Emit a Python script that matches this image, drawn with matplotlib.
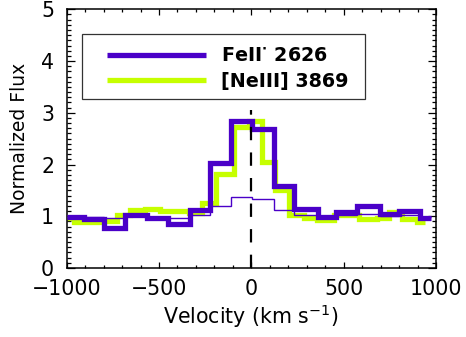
import matplotlib
matplotlib.use('Agg')
import matplotlib.pyplot as plt
from matplotlib.patches import Rectangle
from matplotlib.lines import Line2D
from matplotlib.ticker import MultipleLocator

# FeII* 2626 profile (bin edges in km/s, normalized flux per bin)
fe_edges = [-1000, -905, -800, -683, -565, -454, -331, -222, -110, 4, 121, 233,
            359, 461, 573, 699, 798, 916, 972]
fe_flux = [0.98, 0.95, 0.77, 1.03, 0.96, 0.85, 1.12, 2.03, 2.85, 2.68, 1.59, 1.14,
           0.99, 1.08, 1.19, 1.04, 1.10, 0.96]
# weaker FeII* component on the same bins (thin line)
fe_thin_flux = [0.99, 0.99, 0.96, 1.00, 0.99, 0.97, 1.02, 1.19, 1.37, 1.33, 1.12, 1.03,
                1.00, 1.02, 1.04, 1.01, 1.03, 0.99]

# [NeIII] 3869 profile
ne_edges = [-1000, -962, -884, -806, -728, -656, -575, -493, -415, -340, -267, -190,
            -96, -15, 58, 130, 202, 284, 356, 446, 515, 582, 681, 744, 817, 898, 943]
ne_flux = [0.97, 0.88, 0.88, 0.90, 1.03, 1.12, 1.15, 1.10, 1.10, 1.07, 1.25, 1.82,
           2.72, 2.85, 2.04, 1.51, 1.03, 0.97, 0.93, 1.03, 1.03, 0.94, 0.96, 1.08,
           0.94, 0.88]

labels = ['FeII$^{\\bullet}$ 2626', '[NeIII] 3869']
v_sys = 0
v_line_top = 3.05

purple = '#4a00c8'
lime = '#c6ff00'

plt.rcParams['font.family'] = 'DejaVu Sans'
plt.rcParams['mathtext.default'] = 'regular'

fig = plt.figure(figsize=(4.66, 3.37), dpi=100)
ax = fig.add_axes([0.1431, 0.2047, 0.7925, 0.7677])

ax.stairs(ne_flux, ne_edges, baseline=None, color=lime, lw=3.8, zorder=2)
ax.stairs(fe_thin_flux, fe_edges, baseline=None, color=purple, lw=1.0, zorder=3)
ax.stairs(fe_flux, fe_edges, baseline=None, color=purple, lw=3.8, zorder=4)
ax.plot([v_sys, v_sys], [0, v_line_top], color='black', lw=1.6,
        dashes=(6, 5.5), zorder=5)

ax.set_xlim(-1000, 1000)
ax.set_ylim(0, 5)
ax.xaxis.set_major_locator(MultipleLocator(500))
ax.xaxis.set_minor_locator(MultipleLocator(100))
ax.yaxis.set_major_locator(MultipleLocator(1))
ax.yaxis.set_minor_locator(MultipleLocator(0.1))
ax.tick_params(which='both', direction='in', top=True, right=True,
               labelsize=14.8, width=0.9)
ax.tick_params(axis='x', which='major', length=4.0, pad=8)
ax.tick_params(axis='x', which='minor', length=2.0)
ax.tick_params(axis='y', which='major', length=5.8, pad=9)
ax.tick_params(axis='y', which='minor', length=2.9)
for sp in ax.spines.values():
    sp.set_linewidth(1.1)

ax.set_xlabel('Velocity (km s$^{-1}$)', fontsize=14.8, labelpad=2)
ax.set_ylabel('Normalized Flux', fontsize=13.5, labelpad=9)

# legend box drawn separately from the entries
ax.add_patch(Rectangle((0.042, 0.652), 0.766, 0.251, transform=ax.transAxes,
                       fill=False, ec='#333333', lw=0.9, zorder=6))
handles = [Line2D([], [], color=purple, lw=3.8, solid_capstyle='butt'),
           Line2D([], [], color=lime, lw=3.8, solid_capstyle='butt')]
ax.legend(handles, labels, loc='upper left', bbox_to_anchor=(0.108, 0.857),
          frameon=False, borderpad=0, borderaxespad=0, handlelength=5.2,
          handletextpad=0.75, labelspacing=0.33,
          prop={'size': 13.8, 'weight': 'bold'})

fig.savefig('out.png', dpi=100)
